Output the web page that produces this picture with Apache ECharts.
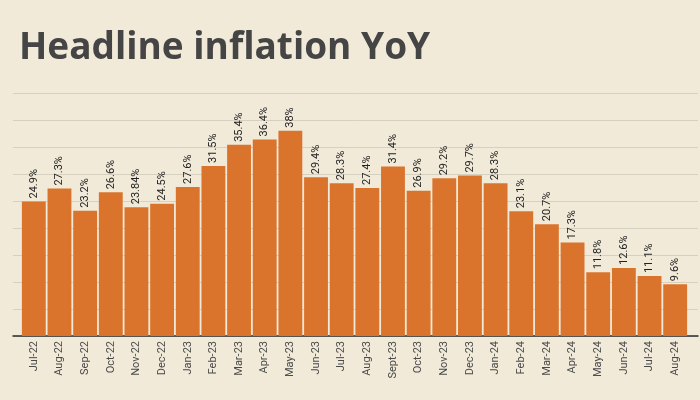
<!DOCTYPE html>
<html>
<head>
<meta charset="utf-8">
<script src="https://cdn.jsdelivr.net/npm/echarts@6/dist/echarts.min.js"></script>
<style>
html,body{margin:0;padding:0;background:#F1EAD9;}
#c{width:700px;height:400px;}
</style>
</head>
<body>
<div id="c"></div>
<script>
const categories = ["Jul-22","Aug-22","Sep-22","Oct-22","Nov-22","Dec-22","Jan-23","Feb-23","Mar-23","Apr-23","May-23","Jun-23","Jul-23","Aug-23","Sept-23","Oct-23","Nov-23","Dec-23","Jan-24","Feb-24","Mar-24","Apr-24","May-24","Jun-24","Jul-24","Aug-24"];
const inflation = [24.9,27.3,23.2,26.6,23.84,24.5,27.6,31.5,35.4,36.4,38,29.4,28.3,27.4,31.4,26.9,29.2,29.7,28.3,23.1,20.7,17.3,11.8,12.6,11.1,9.6];
const yMin = 0, yMax = 45, yStep = 5;

const chart = echarts.init(document.getElementById('c'), null, {renderer:'canvas'});
chart.setOption({
  backgroundColor: '#F1EAD9',
  animation: false,
  title: {
    text: 'Headline inflation YoY',
    left: 14, top: 25,
    textStyle: {fontFamily: 'Open Sans', fontWeight: 'bold', fontSize: 37, color: '#454545'}
  },
  grid: [
    {left: 21, right: 12, top: 93, bottom: 64},
    {left: 13, right: 2, top: 93, bottom: 64}
  ],
  xAxis: [
    {
      type: 'category', data: categories, gridIndex: 0,
      axisLine: {show: false}, axisTick: {show: false},
      axisLabel: {rotate: 90, margin: 5, fontFamily: 'Roboto', fontSize: 11, color: '#4a4a4a', interval: 0}
    },
    {
      type: 'value', gridIndex: 1, min: 0, max: 1,
      axisLine: {show: true, lineStyle: {color: '#2b2b2b', width: 1.5}},
      axisTick: {show: false}, axisLabel: {show: false}, splitLine: {show: false}
    }
  ],
  yAxis: [
    {
      type: 'value', gridIndex: 0, min: yMin, max: yMax, interval: yStep,
      axisLine: {show: false}, axisTick: {show: false}, axisLabel: {show: false}, splitLine: {show: false}
    },
    {
      type: 'value', gridIndex: 1, min: yMin, max: yMax, interval: yStep,
      axisLine: {show: false}, axisTick: {show: false}, axisLabel: {show: false},
      splitLine: {show: true, lineStyle: {color: '#D6D0C1', width: 1}}
    }
  ],
  series: [{
    type: 'bar', xAxisIndex: 0, yAxisIndex: 0,
    data: inflation,
    barCategoryGap: '7%',
    itemStyle: {color: '#DA742C'},
    z: 3,
    label: {
      show: true, position: 'top', rotate: 90, align: 'left', verticalAlign: 'middle',
      distance: 3, fontFamily: 'Roboto', fontSize: 11, color: '#222',
      formatter: p => p.value + '%'
    }
  }]
});
</script>
</body>
</html>
